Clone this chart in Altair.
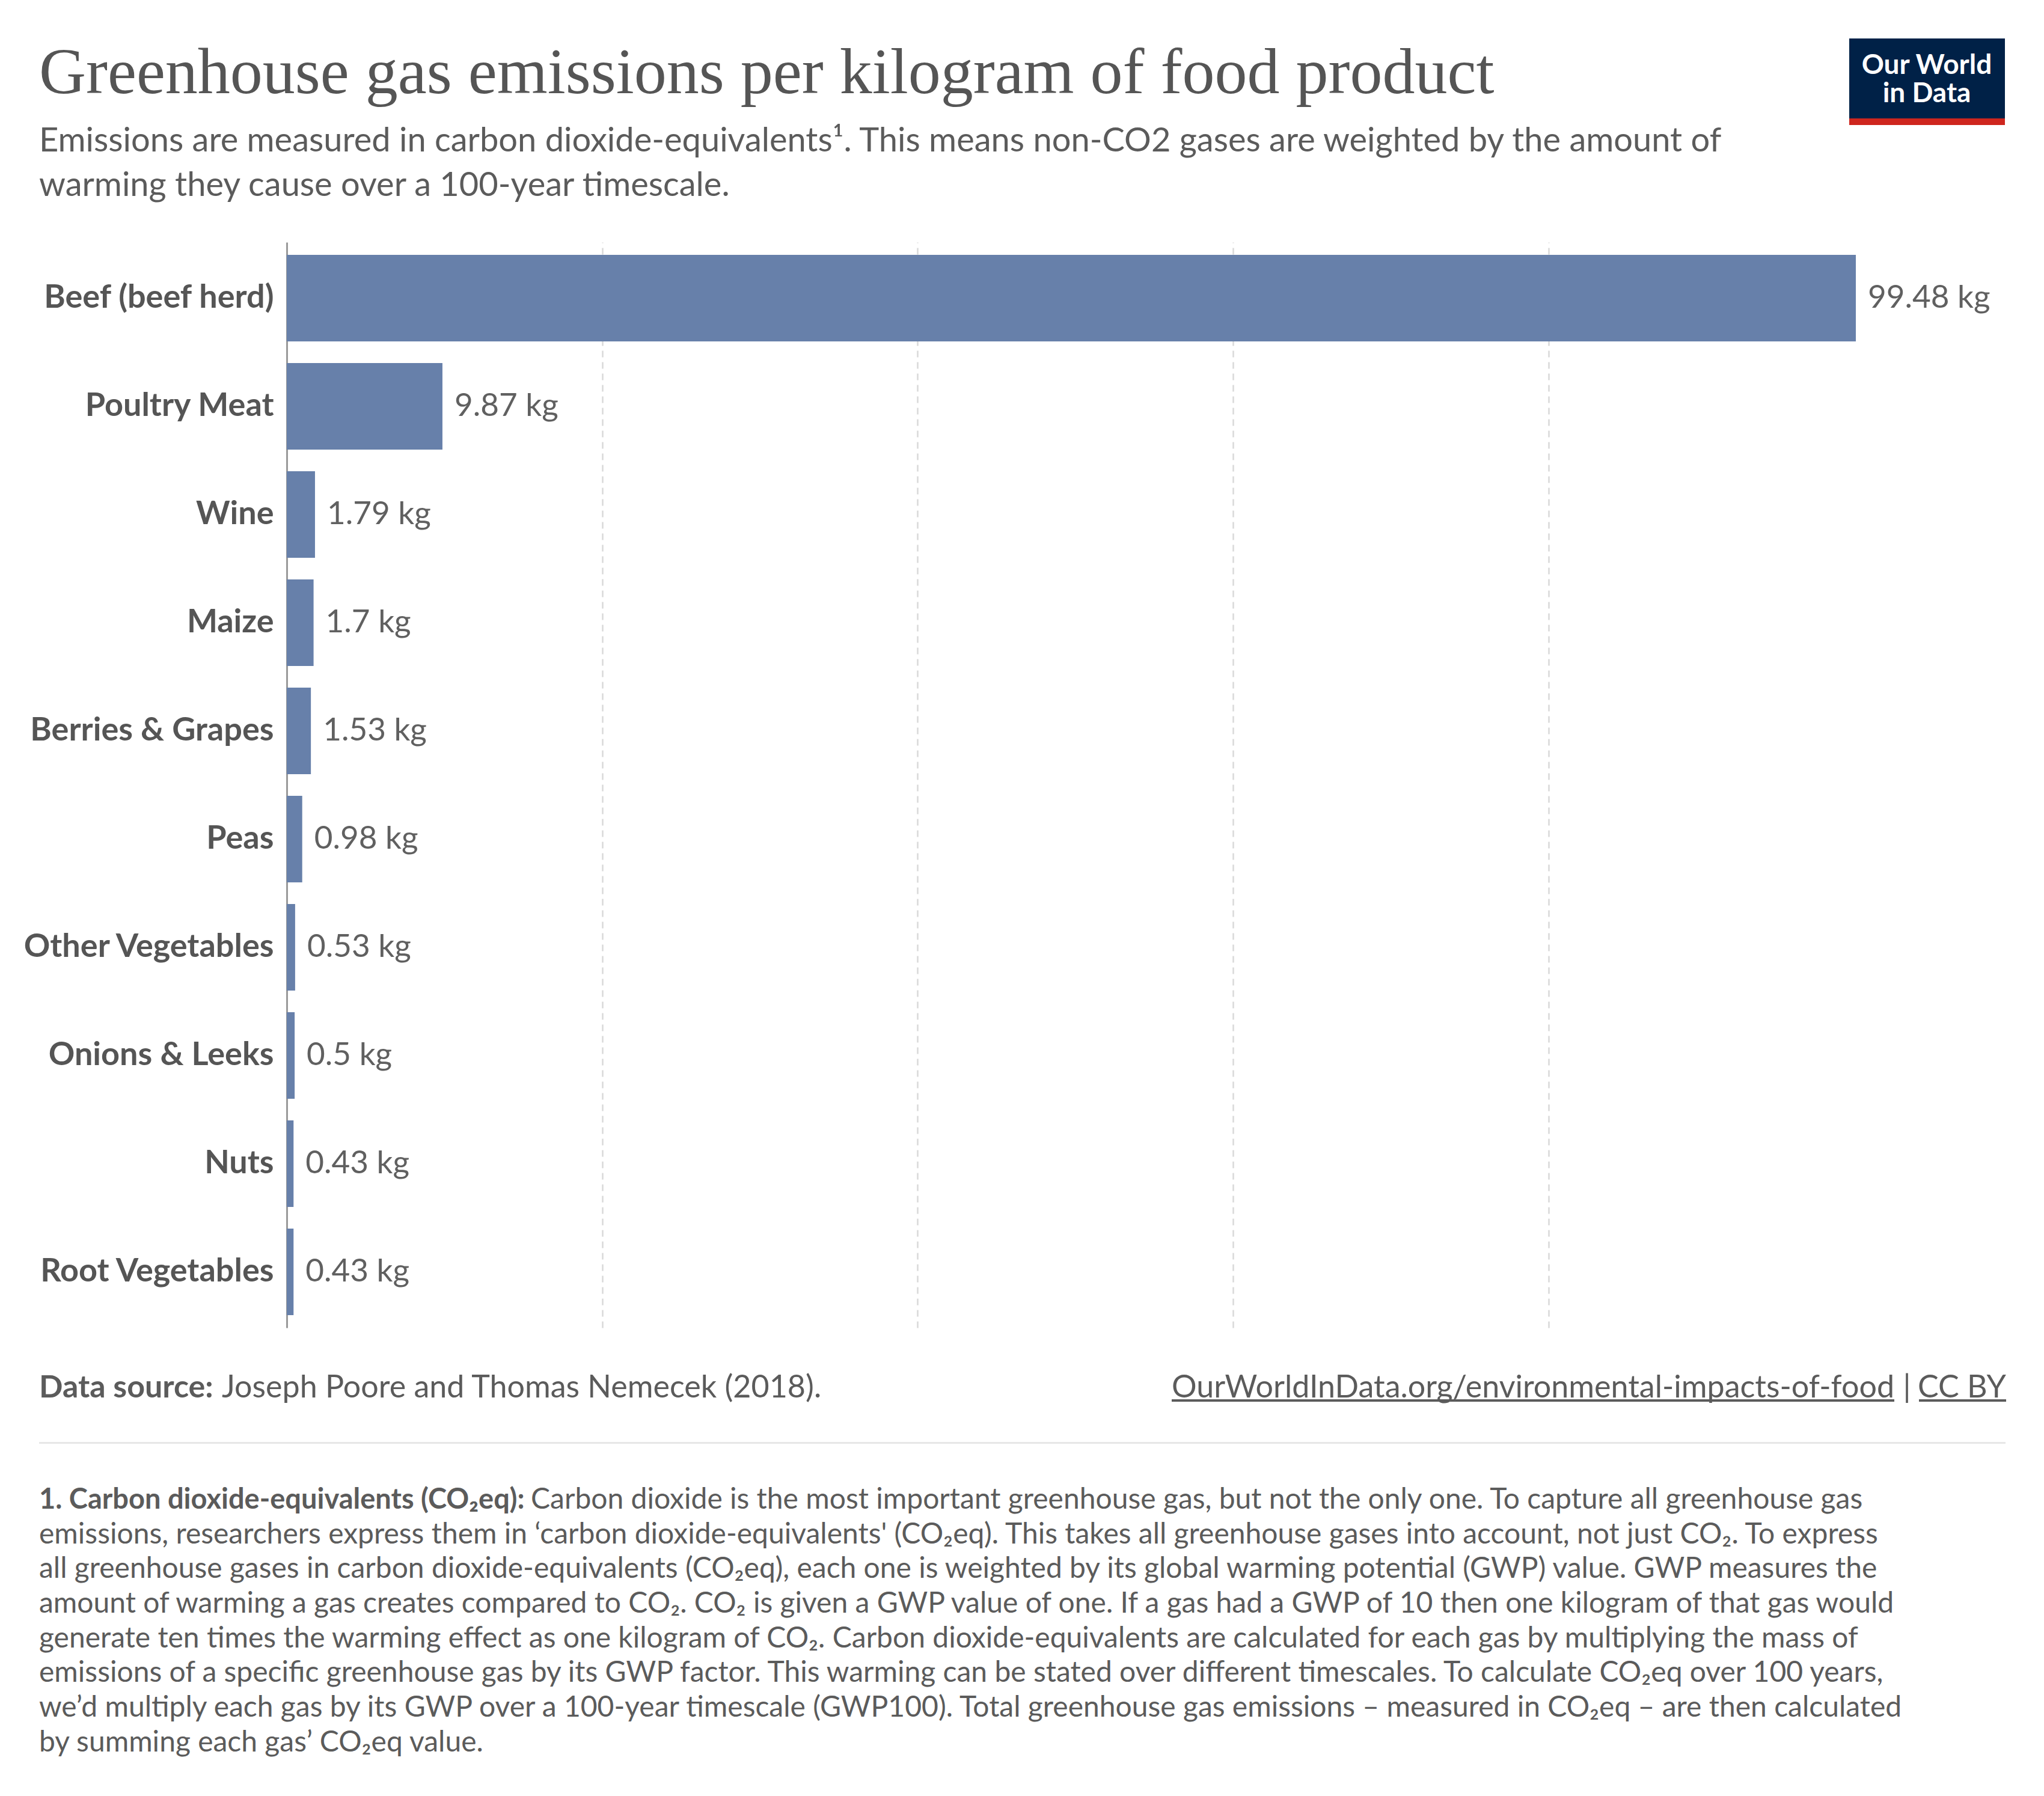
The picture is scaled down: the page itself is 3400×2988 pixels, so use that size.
import altair as alt
import pandas as pd

# ---------------- data ----------------
foods = ["Beef (beef herd)", "Poultry Meat", "Wine", "Maize", "Berries & Grapes",
         "Peas", "Other Vegetables", "Onions & Leeks", "Nuts", "Root Vegetables"]
emissions = [99.48, 9.87, 1.79, 1.7, 1.53, 0.98, 0.53, 0.5, 0.43, 0.43]
grid_ticks = [20, 40, 60, 80]

title_text = "Greenhouse gas emissions per kilogram of food product"
subtitle_lines = [
    "Emissions are measured in carbon dioxide-equivalents\u00b9. This means non-CO2 gases are weighted by the amount of",
    "warming they cause over a 100-year timescale.",
]
source_bold = "Data source:"
source_text = "Joseph Poore and Thomas Nemecek (2018)."
link_text = "OurWorldInData.org/environmental-impacts-of-food"
license_text = "CC BY"
logo_lines = ["Our World", "in Data"]
note_bold = "1. Carbon dioxide-equivalents (CO\u2082eq):"
note_first = "Carbon dioxide is the most important greenhouse gas, but not the only one. To capture all greenhouse gas"
note_lines = [
    "emissions, researchers express them in \u2018carbon dioxide-equivalents' (CO\u2082eq). This takes all greenhouse gases into account, not just CO\u2082. To express",
    "all greenhouse gases in carbon dioxide-equivalents (CO\u2082eq), each one is weighted by its global warming potential (GWP) value. GWP measures the",
    "amount of warming a gas creates compared to CO\u2082. CO\u2082 is given a GWP value of one. If a gas had a GWP of 10 then one kilogram of that gas would",
    "generate ten times the warming effect as one kilogram of CO\u2082. Carbon dioxide-equivalents are calculated for each gas by multiplying the mass of",
    "emissions of a specific greenhouse gas by its GWP factor. This warming can be stated over different timescales. To calculate CO\u2082eq over 100 years,",
    "we\u2019d multiply each gas by its GWP over a 100-year timescale (GWP100). Total greenhouse gas emissions \u2013 measured in CO\u2082eq \u2013 are then calculated",
    "by summing each gas\u2019 CO\u2082eq value.",
]

df = pd.DataFrame({"food": foods, "value": emissions})
df["label"] = [f"{v:g} kg" for v in emissions]

# ---------------- styles ----------------
W, H = 2610, 1806
BAR = "#6780aa"
TXT = "#5b5b5b"
FONT = "Lato"

x_scale = alt.Scale(domain=[0, max(emissions)], nice=False, zero=True)
y_scale = alt.Scale(paddingInner=0.2, paddingOuter=0.117)

base = alt.Chart(df)
bars = base.mark_bar(color=BAR).encode(
    x=alt.X("value:Q", scale=x_scale,
            axis=alt.Axis(values=grid_ticks, grid=True, gridDash=[11, 8], gridColor="#d9d9d9",
                          gridWidth=2.5, labels=False, ticks=False, domain=False, title=None)),
    y=alt.Y("food:N", sort=foods, scale=y_scale,
            axis=alt.Axis(title=None, ticks=False, tickSize=0, labelPadding=22, labelFont=FONT,
                          labelFontWeight="bold", labelFontSize=54, labelColor="#555555",
                          domainColor="#9a9a9a", domainWidth=3, labelLimit=1000, grid=False)),
)
values = base.mark_text(align="left", baseline="middle", dx=20, font=FONT, fontSize=53,
                        color="#606060").encode(
    x=alt.X("value:Q", scale=x_scale),
    y=alt.Y("food:N", sort=foods, scale=y_scale),
    text="label:N",
)

one = alt.Data(values=[{}])

# page coordinate -> mark coordinate: X - 477, Y - 403
def txt(s, x, y, size, weight="normal", color=TXT, align="left", font=FONT, lh=None):
    kw = dict(text=s, align=align, baseline="alphabetic", font=font, fontSize=size,
              fontWeight=weight, color=color)
    if lh is not None:
        kw["lineHeight"] = lh
    return alt.Chart(one).mark_text(**kw).encode(x=alt.value(x), y=alt.value(y))


def rect(x1, x2, y1, y2, color):
    return alt.Chart(one).mark_rect(color=color).encode(
        x=alt.value(x1), x2=alt.value(x2), y=alt.value(y1), y2=alt.value(y2))


def rule(x1, x2, y, color, w):
    return alt.Chart(one).mark_rule(color=color, strokeWidth=w).encode(
        x=alt.value(x1), x2=alt.value(x2), y=alt.value(y))


L = -412
annotations = [
    txt(title_text, L, -248, 108, font="Liberation Serif", color="#555555"),
    txt(subtitle_lines, L, -151, 56, lh=74),
    rect(2599, 2858, -339, -206, "#002147"),
    rect(2599, 2858, -206, -195, "#ce261e"),
    txt(logo_lines, 2728, -280, 46, weight="bold", color="white", align="center", lh=47),
    txt(source_bold, L, 1922, 52, weight="bold"),
    txt(source_text, -108, 1922, 52),
    txt(link_text, 2674, 1922, 52, align="right"),
    txt("|", 2695, 1922, 52, align="center"),
    txt(license_text, 2860, 1922, 52, align="right"),
    rule(1472, 2674, 1927, TXT, 4),
    rule(2715, 2860, 1927, TXT, 4),
    rule(L, 2859, 1997.5, "#e7e7e7", 3),
    txt(note_bold, L, 2107, 47, weight="bold"),
    txt(note_first, 406, 2107, 48),
    txt(note_lines, L, 2107 + 57.7, 48, lh=57.7),
]

chart = alt.layer(bars, values, *annotations).properties(
    width=W, height=H,
    padding={"left": 469, "top": 395, "right": 301, "bottom": 767},
    autosize=alt.AutoSizeParams(type="none"),
).configure(background="white").configure_view(stroke=None)

chart.save("out.html", embed_options={"renderer": "svg", "actions": False})
